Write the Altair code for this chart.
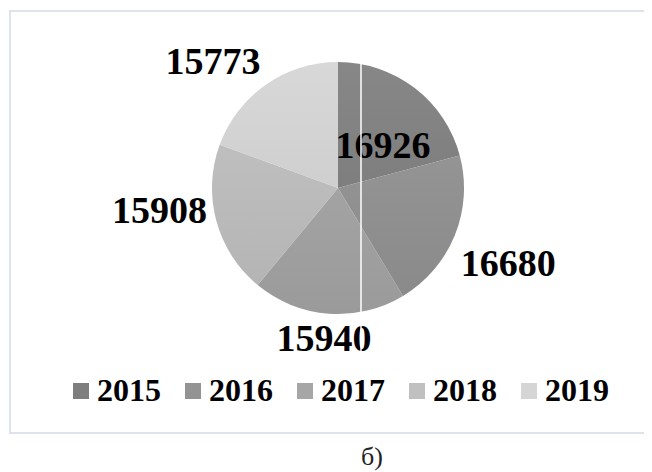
import altair as alt
import pandas as pd

years = ["2015", "2016", "2017", "2018", "2019"]
values = [16926, 16680, 15940, 15908, 15773]
colors = ["#7e7e7e", "#939393", "#a6a6a6", "#c0c0c0", "#d5d5d5"]
caption = "б)"

df = pd.DataFrame({"year": years, "value": values})

CX, CY, R = 330, 180, 126
FONT = "Liberation Serif"

base = alt.Chart(df)

pie = base.mark_arc(outerRadius=R).encode(
    theta=alt.Theta("value:Q", stack=True),
    color=alt.Color(
        "year:N",
        scale=alt.Scale(domain=years, range=colors),
        legend=alt.Legend(
            title=None, orient="none", legendX=57, legendY=367,
            direction="horizontal", columns=5, symbolType="square",
            symbolSize=256, symbolStrokeWidth=0, symbolOpacity=1,
            labelFont=FONT, labelFontSize=32, labelFontWeight="bold",
            labelColor="black", labelOffset=0, columnPadding=16, padding=0,
        ),
    ),
    order=alt.Order("year:N", sort="ascending"),
    x=alt.value(CX), y=alt.value(CY),
)

shade = alt.Chart(alt.Data(values=[{}])).mark_arc(
    outerRadius=R,
    color=alt.LinearGradient(
        gradient="linear", x1=0, y1=0, x2=0, y2=1,
        stops=[
            alt.GradientStop(color="rgba(255,255,255,0.07)", offset=0),
            alt.GradientStop(color="rgba(0,0,0,0.07)", offset=1),
        ],
    ),
).encode(theta=alt.value(0), theta2=alt.value(6.2832),
         x=alt.value(CX), y=alt.value(CY))

adj = ("datum.year=='2015'?0.178:datum.year=='2016'?0.042:"
       "datum.year=='2017'?0.017:datum.year=='2018'?0.131:-0.175")
rad = ("datum.year=='2015'?61:datum.year=='2016'?187:"
       "datum.year=='2017'?153:datum.year=='2018'?180:177")

labels = base.transform_joinaggregate(
    total="sum(value)"
).transform_window(
    cum="sum(value)", sort=[alt.SortField("year")], frame=[None, 0]
).transform_calculate(
    ang="(datum.cum - datum.value/2)/datum.total*2*PI + (" + adj + ")",
    lr=rad,
).mark_text(
    font=FONT, fontSize=38, fontWeight="bold", color="black",
    align="center", baseline="middle",
).encode(
    theta=alt.Theta("ang:Q", scale=None, stack=False),
    radius=alt.Radius("lr:Q", scale=None),
    text=alt.Text("value:Q", format="d"),
    x=alt.value(CX), y=alt.value(CY),
)

border = alt.Chart(alt.Data(values=[{}])).mark_rect(
    fillOpacity=0, stroke="#dfe4ec", strokeWidth=2
).encode(x=alt.value(2), x2=alt.value(720), y=alt.value(3), y2=alt.value(425))

artifact = alt.Chart(alt.Data(values=[{}])).mark_rule(
    color="white", strokeWidth=1.5
).encode(x=alt.value(353), y=alt.value(54), y2=alt.value(349))

cap = alt.Chart(alt.Data(values=[{"t": caption}])).mark_text(
    font=FONT, fontSize=26, color="#222222", align="center", baseline="middle"
).encode(text="t:N", x=alt.value(364), y=alt.value(449))

chart = alt.layer(border, pie, shade, labels, artifact, cap).properties(
    width=636, height=464, padding=0,
    autosize=alt.AutoSizeParams(type="none"),
).configure_view(strokeWidth=0)

chart.save("out.html", embed_options={"renderer": "svg", "actions": False})
